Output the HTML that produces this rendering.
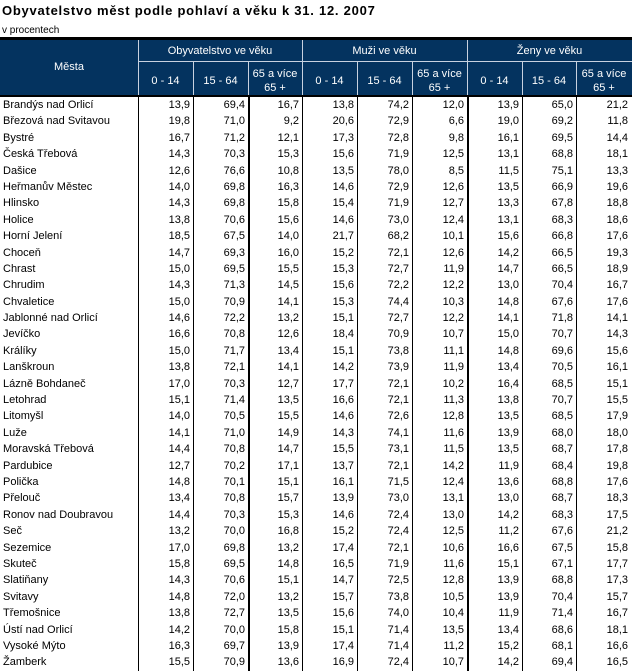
<!DOCTYPE html>
<html><head><meta charset="utf-8"><style>
body{margin:0;width:632px;height:671px;overflow:hidden;background:#fff;font-family:"Liberation Sans",Arial,sans-serif;position:relative}
.t{position:absolute;left:2px;top:3px;font-size:13px;font-weight:bold;letter-spacing:0.75px;white-space:nowrap}
.s{position:absolute;left:2px;top:25px;font-size:10px}
.bar{position:absolute;left:0;width:632px;background:#000}
.hd{position:absolute;top:40px;left:0;width:632px;height:55px;background:#04335f}
.hl{position:absolute;background:#c8d2e0}
.ht{position:absolute;color:#fff;font-size:11px;text-align:center;line-height:14px}
.v{position:absolute;top:97px;height:574px;background:#000;width:1px}
.rows{position:absolute;top:97px;left:0;width:632px}
.r{height:16.4px;position:relative;font-size:11px;line-height:16.4px}
.r span{position:absolute;text-align:right}
.r .n{left:3px;text-align:left}
</style></head><body>
<div class="t">Obyvatelstvo měst podle pohlaví a věku k 31. 12. 2007</div>
<div class="s">v procentech</div>
<div class="bar" style="top:37px;height:3px"></div>
<div class="hd"></div>
<div class="bar" style="top:95px;height:2px"></div>
<div class="hl" style="left:138px;top:40px;width:1px;height:55px"></div>
<div class="hl" style="left:302px;top:40px;width:1px;height:55px"></div>
<div class="hl" style="left:467px;top:40px;width:1px;height:55px"></div>
<div class="hl" style="left:138px;top:61px;width:494px;height:1px"></div>
<div class="hl" style="left:193px;top:62px;width:1px;height:33px"></div>
<div class="hl" style="left:248px;top:62px;width:1px;height:33px"></div>
<div class="hl" style="left:357px;top:62px;width:1px;height:33px"></div>
<div class="hl" style="left:412px;top:62px;width:1px;height:33px"></div>
<div class="hl" style="left:522px;top:62px;width:1px;height:33px"></div>
<div class="hl" style="left:576px;top:62px;width:1px;height:33px"></div>
<div class="ht" style="left:0;width:138px;top:60px">Města</div>
<div class="ht" style="left:138px;width:164px;top:44px">Obyvatelstvo ve věku</div>
<div class="ht" style="left:302px;width:165px;top:44px">Muži ve věku</div>
<div class="ht" style="left:467px;width:165px;top:44px">Ženy ve věku</div>
<div class="ht" style="left:138px;width:55px;top:74px">0 - 14</div>
<div class="ht" style="left:193px;width:55px;top:74px">15 - 64</div>
<div class="ht" style="left:248px;width:54px;top:67px">65 a více<br>65 +</div>
<div class="ht" style="left:302px;width:55px;top:74px">0 - 14</div>
<div class="ht" style="left:357px;width:55px;top:74px">15 - 64</div>
<div class="ht" style="left:412px;width:55px;top:67px">65 a více<br>65 +</div>
<div class="ht" style="left:467px;width:55px;top:74px">0 - 14</div>
<div class="ht" style="left:522px;width:54px;top:74px">15 - 64</div>
<div class="ht" style="left:576px;width:56px;top:67px">65 a více<br>65 +</div>
<div class="v" style="left:138px"></div>
<div class="v" style="left:193px"></div>
<div class="v" style="left:248px;width:2px"></div>
<div class="v" style="left:302px"></div>
<div class="v" style="left:357px"></div>
<div class="v" style="left:412px"></div>
<div class="v" style="left:467px;width:2px"></div>
<div class="v" style="left:522px"></div>
<div class="v" style="left:576px"></div>
<div class="rows" id="rows"></div>
<script>
var d=[["Brandýs nad Orlicí","13,9","69,4","16,7","13,8","74,2","12,0","13,9","65,0","21,2"],
["Březová nad Svitavou","19,8","71,0","9,2","20,6","72,9","6,6","19,0","69,2","11,8"],
["Bystré","16,7","71,2","12,1","17,3","72,8","9,8","16,1","69,5","14,4"],
["Česká Třebová","14,3","70,3","15,3","15,6","71,9","12,5","13,1","68,8","18,1"],
["Dašice","12,6","76,6","10,8","13,5","78,0","8,5","11,5","75,1","13,3"],
["Heřmanův Městec","14,0","69,8","16,3","14,6","72,9","12,6","13,5","66,9","19,6"],
["Hlinsko","14,3","69,8","15,8","15,4","71,9","12,7","13,3","67,8","18,8"],
["Holice","13,8","70,6","15,6","14,6","73,0","12,4","13,1","68,3","18,6"],
["Horní Jelení","18,5","67,5","14,0","21,7","68,2","10,1","15,6","66,8","17,6"],
["Choceň","14,7","69,3","16,0","15,2","72,1","12,6","14,2","66,5","19,3"],
["Chrast","15,0","69,5","15,5","15,3","72,7","11,9","14,7","66,5","18,9"],
["Chrudim","14,3","71,3","14,5","15,6","72,2","12,2","13,0","70,4","16,7"],
["Chvaletice","15,0","70,9","14,1","15,3","74,4","10,3","14,8","67,6","17,6"],
["Jablonné nad Orlicí","14,6","72,2","13,2","15,1","72,7","12,2","14,1","71,8","14,1"],
["Jevíčko","16,6","70,8","12,6","18,4","70,9","10,7","15,0","70,7","14,3"],
["Králíky","15,0","71,7","13,4","15,1","73,8","11,1","14,8","69,6","15,6"],
["Lanškroun","13,8","72,1","14,1","14,2","73,9","11,9","13,4","70,5","16,1"],
["Lázně Bohdaneč","17,0","70,3","12,7","17,7","72,1","10,2","16,4","68,5","15,1"],
["Letohrad","15,1","71,4","13,5","16,6","72,1","11,3","13,8","70,7","15,5"],
["Litomyšl","14,0","70,5","15,5","14,6","72,6","12,8","13,5","68,5","17,9"],
["Luže","14,1","71,0","14,9","14,3","74,1","11,6","13,9","68,0","18,0"],
["Moravská Třebová","14,4","70,8","14,7","15,5","73,1","11,5","13,5","68,7","17,8"],
["Pardubice","12,7","70,2","17,1","13,7","72,1","14,2","11,9","68,4","19,8"],
["Polička","14,8","70,1","15,1","16,1","71,5","12,4","13,6","68,8","17,6"],
["Přelouč","13,4","70,8","15,7","13,9","73,0","13,1","13,0","68,7","18,3"],
["Ronov nad Doubravou","14,4","70,3","15,3","14,6","72,4","13,0","14,2","68,3","17,5"],
["Seč","13,2","70,0","16,8","15,2","72,4","12,5","11,2","67,6","21,2"],
["Sezemice","17,0","69,8","13,2","17,4","72,1","10,6","16,6","67,5","15,8"],
["Skuteč","15,8","69,5","14,8","16,5","71,9","11,6","15,1","67,1","17,7"],
["Slatiňany","14,3","70,6","15,1","14,7","72,5","12,8","13,9","68,8","17,3"],
["Svitavy","14,8","72,0","13,2","15,7","73,8","10,5","13,9","70,4","15,7"],
["Třemošnice","13,8","72,7","13,5","15,6","74,0","10,4","11,9","71,4","16,7"],
["Ústí nad Orlicí","14,2","70,0","15,8","15,1","71,4","13,5","13,4","68,6","18,1"],
["Vysoké Mýto","16,3","69,7","13,9","17,4","71,4","11,2","15,2","68,1","16,6"],
["Žamberk","15,5","70,9","13,6","16,9","72,4","10,7","14,2","69,4","16,5"]];
var R=[190,245,299,354,409,464,519,573,628];
var h="";
d.forEach(function(r){h+='<div class="r"><span class="n">'+r[0]+'</span>';
for(var i=1;i<10;i++)h+='<span style="right:'+(632-R[i-1])+'px">'+r[i]+'</span>';h+='</div>';});
document.getElementById("rows").innerHTML=h;
</script>
</body></html>
